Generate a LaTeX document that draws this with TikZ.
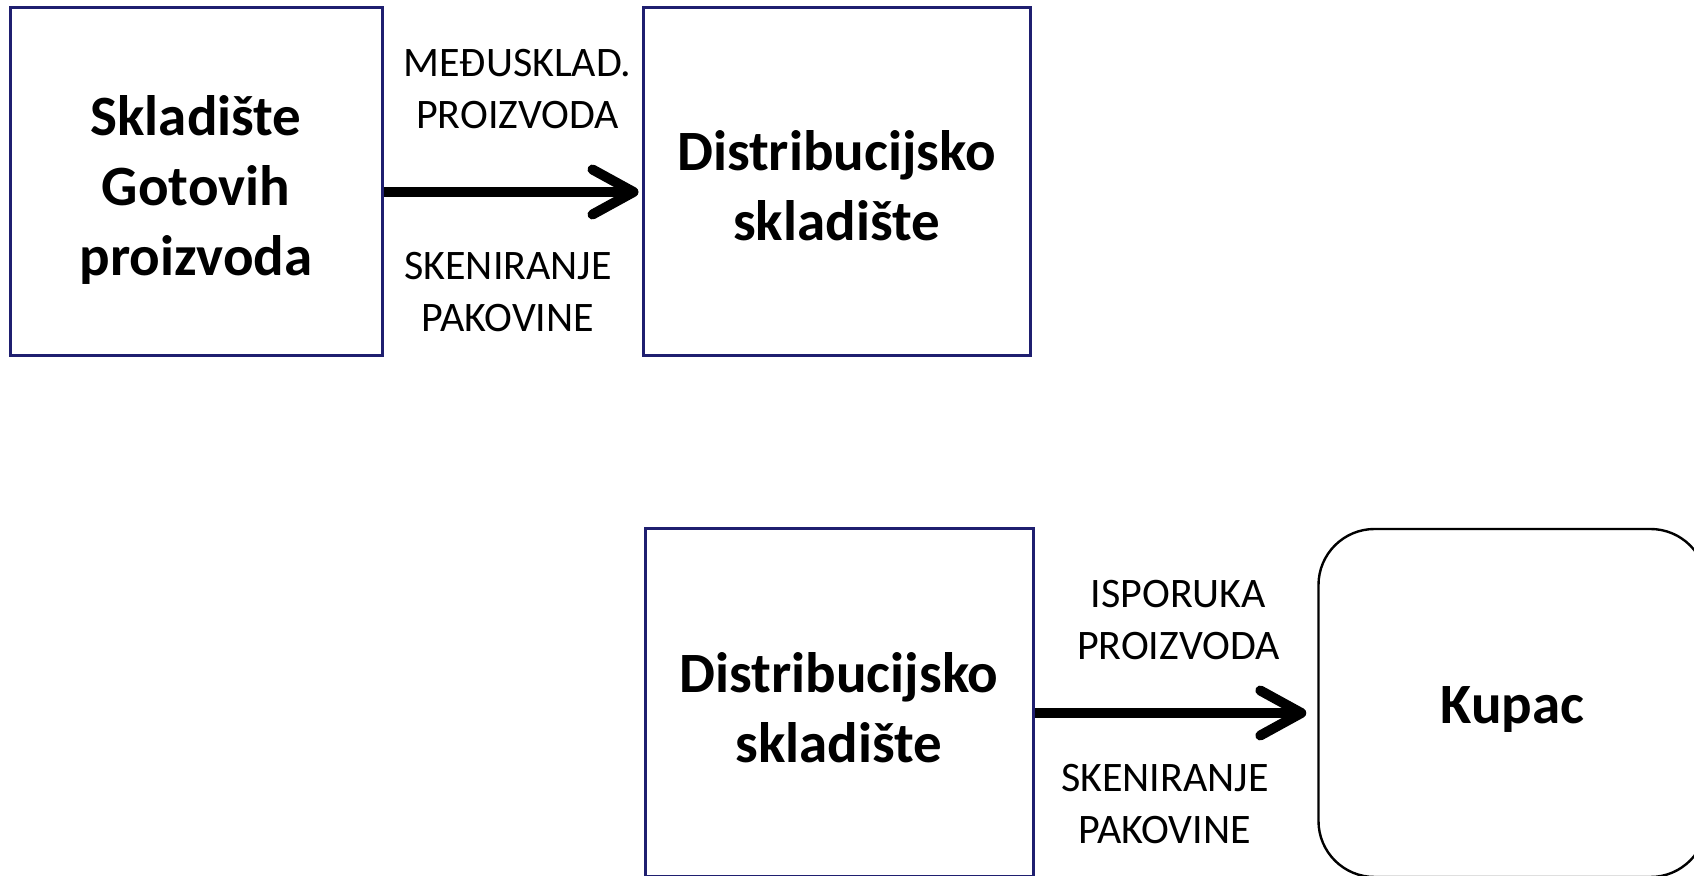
\documentclass[tikz,border=0pt]{standalone}
\usepackage{fontspec}
\setmainfont{Carlito}
\usetikzlibrary{arrows.meta}
\definecolor{boxblue}{RGB}{31,31,112}

\begin{document}
\begin{tikzpicture}[x=0.5pt,y=-0.5pt]
        \tikzset{box/.style = {shape=rectangle,draw=boxblue,line width=1.5pt,minimum width=194pt,minimum height=174pt,inner sep=0pt,align=center,font=\fontsize{28.5}{35}\selectfont\bfseries}}
        \tikzset{client/.style = {box,draw=black,line width=1.2pt,rounded corners=28pt}}
        \tikzset{edge/.style = {line width=5pt,-{Straight Barb[length=20.5pt,width=22.5pt,round]}}}
        \tikzset{lbl/.style = {align=center,font=\fontsize{21}{26}\selectfont}}
        \useasboundingbox (0,0) rectangle (1694,876);
        \node[box,minimum width=186pt] (sgp) at (196,182) {\rule{0pt}{27.5pt}Skladište\\Gotovih\\proizvoda};
        \node[box,minimum width=193.5pt] (ds1) at (836.5,182) {\rule{0pt}{24pt}Distribucijsko\\skladište};
        \node[box] (ds2) at (839,703) {\rule{0pt}{25pt}Distribucijsko\\skladište};
        \node[client] (kupac) at (1512.5,703) {\rule{0pt}{25pt}Kupac};
        \draw[edge,shorten >=1.5pt] ([yshift=-5pt]sgp.east) --
            node[lbl,midway,xshift=2.5pt,yshift=51.5pt] {MEĐUSKLAD.\\PROIZVODA}
            node[lbl,midway,xshift=-2.25pt,yshift=-50pt] {SKENIRANJE\\PAKOVINE} ([yshift=-5pt]ds1.west);
        \draw[edge,shorten >=5.5pt] ([yshift=-5pt]ds2.east) --
            node[lbl,midway,xshift=1.25pt,yshift=46.5pt] {ISPORUKA\\PROIZVODA}
            node[lbl,midway,xshift=-5.5pt,yshift=-45.5pt] {SKENIRANJE\\PAKOVINE} ([yshift=-5pt]kupac.west);
\end{tikzpicture}
\end{document}
